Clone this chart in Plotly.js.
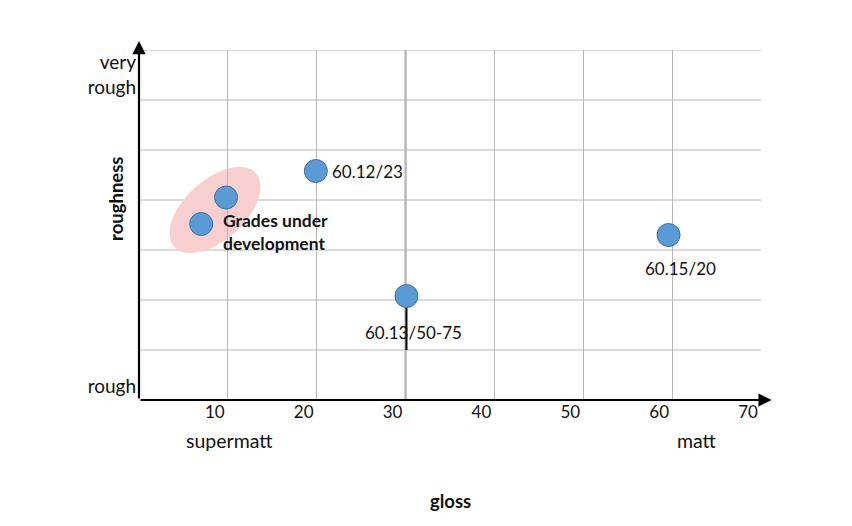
<!DOCTYPE html>
<html>
<head>
<meta charset="utf-8">
<script src="https://cdn.plot.ly/plotly-3.0.1.min.js"></script>
<style>body{margin:0;background:#fff}#chart{width:852px;height:526px}</style>
</head>
<body>
<div id="chart"></div>
<script>
// ---- data ----
const names = ["grade A", "grade B", "60.12/23", "60.13/50-75", "60.15/20"];
const gloss = [9.8, 7.0, 19.9, 30.1, 59.6];
const roughness = [4.05, 3.52, 4.58, 2.08, 3.30];
const errMinus = [0, 0, 0, 1.08, 0];
const xTickVals = [10, 20, 30, 40, 50, 60, 70];
const xTickText = ["10", "20", "30", "40", "50", "60", "70"];
const yTickVals = [0.28, 6.5];
const yTickText = ["rough", "very<br>rough"];
const groupLabel = "Grades under<br>development";

// ---- layout helpers ----
const L = 139, R = 761, T = 50, B = 400;
const px = v => (v - L) / (R - L);
const py = v => (B - v) / (B - T);
const FONT = "Lato, 'Open Sans', sans-serif";

// highlight ellipse around grades under development (pixel params)
function ellipsePath(cx, cy, a, b, angDeg) {
  const th = angDeg * Math.PI / 180;
  let d = "";
  for (let i = 0; i <= 60; i++) {
    const t = i / 60 * 2 * Math.PI;
    const ex = cx + a * Math.cos(t) * Math.cos(th) - b * Math.sin(t) * Math.sin(th);
    const ey = cy - (a * Math.cos(t) * Math.sin(th) + b * Math.sin(t) * Math.cos(th));
    const dx = (ex - L) / (R - L) * 70;
    const dy = (B - ey) / (B - T) * 7;
    d += (i === 0 ? "M" : "L") + dx.toFixed(3) + "," + dy.toFixed(3);
  }
  return d + "Z";
}

const trace = {
  type: "scatter", mode: "markers",
  x: gloss, y: roughness, text: names,
  marker: {size: 23, color: "#5b9bd5", line: {color: "#41719c", width: 1}},
  error_y: {type: "data", symmetric: false, array: [0,0,0,0,0], arrayminus: errMinus,
            color: "#000", thickness: 2, width: 0},
  hoverinfo: "text"
};

const txt = (o) => Object.assign({showarrow: false, xanchor: "center", yanchor: "middle"}, o);

const annotations = [
  txt({x: gloss[2], y: roughness[2], text: names[2], xanchor: "left", xshift: 14,
   font: {family: FONT, size: 17, color: "#111"}}),
  txt({x: gloss[3], y: roughness[3], text: names[3], xshift: 7, yshift: -36,
   font: {family: FONT, size: 17, color: "#111"}}),
  txt({x: gloss[4], y: roughness[4], text: names[4], xshift: 12, yshift: -33,
   font: {family: FONT, size: 17, color: "#111"}}),
  txt({x: gloss[1], y: roughness[1], text: groupLabel, xanchor: "left",
   xshift: 20, yshift: -8, align: "left",
   font: {family: FONT, size: 17.5, color: "#111", weight: "bold"}}),
  txt({xref: "paper", yref: "paper", x: px(229), y: py(440), text: "supermatt",
   font: {family: FONT, size: 19.5, color: "#111"}}),
  txt({xref: "paper", yref: "paper", x: px(697), y: py(440), text: "matt",
   font: {family: FONT, size: 19.5, color: "#111"}}),
  txt({xref: "paper", yref: "paper", x: px(450), y: py(501), text: "gloss",
   font: {family: FONT, size: 18.5, color: "#111", weight: "bold"}}),
  txt({xref: "paper", yref: "paper", x: px(116), y: py(199), text: "roughness", textangle: -90,
   font: {family: FONT, size: 18.5, color: "#111", weight: "bold"}}),
  // axis arrows
  {x: 71.2, y: 0, ax: 0, ay: 0, axref: "x", ayref: "y", xref: "x", yref: "y", text: "", showarrow: true,
   arrowhead: 2, arrowsize: 1.2, arrowwidth: 2.2, arrowcolor: "#000", standoff: 0},
  {x: 0, y: 7.18, ax: 0, ay: 0, axref: "x", ayref: "y", xref: "x", yref: "y", text: "", showarrow: true,
   arrowhead: 2, arrowsize: 1.2, arrowwidth: 2.2, arrowcolor: "#000", standoff: 0}
];

const shapes = [
  {type: "path", path: ellipsePath(215, 210, 55, 30, 42), fillcolor: "#f8d0d0",
   line: {width: 0}, layer: "below"},
  {type: "line", xref: "x", yref: "paper", x0: 30, x1: 30, y0: 0, y1: 1,
   line: {color: "#9a9a9a", width: 2}, layer: "below"}
];

const layout = {
  width: 852, height: 526,
  margin: {l: L, r: 852 - R, t: T, b: 526 - B},
  paper_bgcolor: "#fff", plot_bgcolor: "#fff",
  showlegend: false,
  font: {family: FONT, size: 17, color: "#111"},
  xaxis: {range: [0, 70], tickvals: xTickVals, ticktext: xTickText, ticklabelshift: -13,
          showgrid: true, gridcolor: "#b8b8b8", gridwidth: 1, zeroline: false,
          showline: false, ticks: "", fixedrange: true, tickfont: {size: 17, color: "#111"}},
  yaxis: {range: [0, 7], dtick: 1, tickvals: yTickVals, ticktext: yTickText,
          showgrid: false, zeroline: false, showline: false, ticks: "", ticklabelstandoff: 2,
          tickfont: {size: 19, color: "#111"}},
  shapes: shapes.concat(
    [1,2,3,4,5,6,7].map(v => ({type: "line", xref: "paper", yref: "y", x0: 0, x1: 1, y0: v, y1: v,
      line: {color: "#b8b8b8", width: 1}, layer: "below"}))
  ),
  annotations: annotations
};

Plotly.newPlot("chart", [trace], layout, {displayModeBar: false, staticPlot: true});
</script>
</body>
</html>
